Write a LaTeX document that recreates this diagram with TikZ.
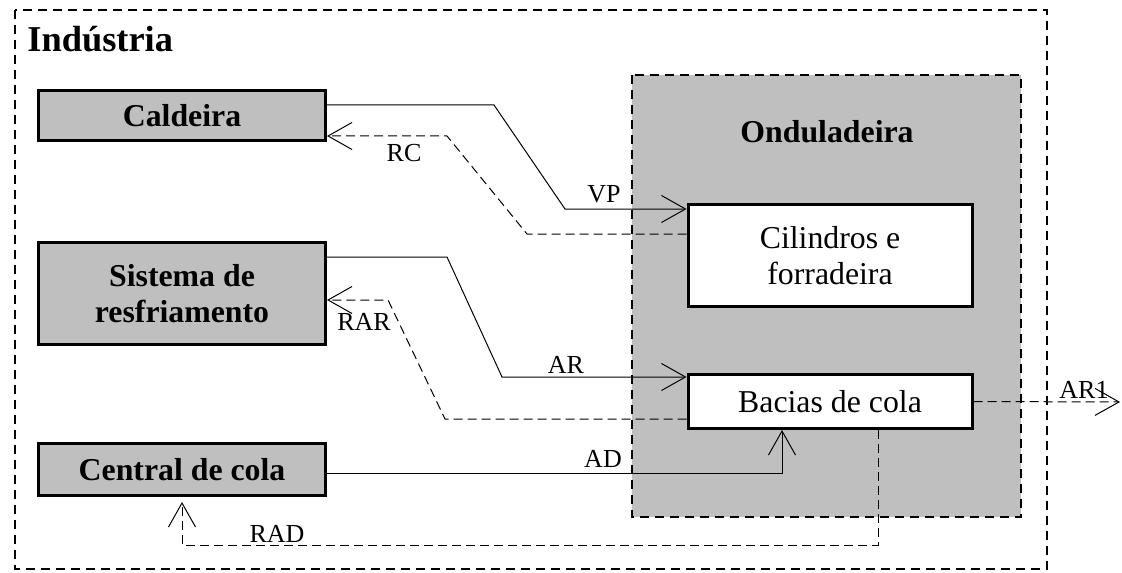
\documentclass[tikz,border=0pt]{standalone}
\usepackage{fontspec}
\setmainfont{Liberation Serif}
\usetikzlibrary{arrows.meta}
\colorlet{boxgray}{black!25}
\tikzset{
	unit/.style={rectangle,draw=black,fill=boxgray,line width=1.5pt,inner sep=0pt,align=center,
		font=\fontsize{15.9}{18.3}\selectfont\bfseries},
	part/.style={rectangle,draw=black,fill=white,line width=1.5pt,inner sep=0pt,align=center,
		font=\fontsize{15.9}{18.3}\selectfont},
	area/.style={line width=1.2pt,dash pattern=on 4.5pt off 3pt},
	flow/.style={line width=.5pt,-{Straight Barb[length=12pt,width=13.5pt]}},
	ret/.style={flow,dash pattern=on 4.5pt off 2.5pt},
	labl/.style={anchor=base,inner sep=0pt,font=\fontsize{13}{15}\selectfont},
	title/.style={inner sep=0pt,font=\fontsize{15.9}{18.3}\selectfont\bfseries},
}

\begin{document}
\begin{tikzpicture}[x=.5pt,y=-.5pt]
\useasboundingbox (0,0) rectangle (1122,572);
 \draw[area] (15,10) rectangle (1047,569);
 \filldraw[area,fill=boxgray,line width=1pt] (632,75) rectangle (1021,517);

\node (ind) at (27,52) [title,anchor=base west,font=\fontsize{18.2}{22}\selectfont\bfseries] {Indústria};
\node (ond) at (827,132) [title] {Onduladeira};

\node (cald) at (182,115.5) [unit,minimum width=143.5pt,minimum height=25pt] {Caldeira};
\node (sis) at (182,293.5) [unit,minimum width=143.5pt,minimum height=51pt] {Sistema de\\resfriamento};
\node (cen) at (182,469.5) [unit,minimum width=143.5pt,minimum height=26pt] {Central de cola};
\node (cil) at (830,255.5) [part,minimum width=142pt,minimum height=51pt] {Cilindros e\\forradeira};
\node (bac) at (830,401.5) [part,minimum width=142pt,minimum height=27pt] {Bacias de cola};
\coordinate (out) at (1120,402);

  \draw[flow] (cald.east |- 0,105) -- (494,105) -- (565,209) -- (cil.west |- 0,209);
  \draw[ret] (cil.west |- 0,234) -- (527,234) -- (447,136) -- (cald.east |- 0,136);
  \draw[flow] (sis.east |- 0,257) -- (447,257) -- (502,377) -- (bac.west |- 0,377);
  \draw[ret] (bac.west |- 0,419) -- (445,419) -- (388,300) -- (sis.east |- 0,300);
  \draw[flow] (cen.east |- 0,473) -- (782,473) -- (bac.south -| 782,0);
  \draw[ret,shorten >=2.5pt] (bac.south -| 878,0) -- (878,545) -- (182,545) -- (cen.south -| 182,0);
  \draw[ret] (bac.east) -- (out);

\node (vp) at (604,203) [labl] {VP};
\node (rc) at (404,162) [labl] {RC};
\node (ar) at (566,373) [labl] {AR};
\node (rar) at (364,330) [labl] {RAR};
\node (ad) at (603,467) [labl] {AD};
\node (rad) at (277,542) [labl] {RAD};
\node (ar1) at (1084,398) [labl] {AR1};
\end{tikzpicture}
\end{document}
